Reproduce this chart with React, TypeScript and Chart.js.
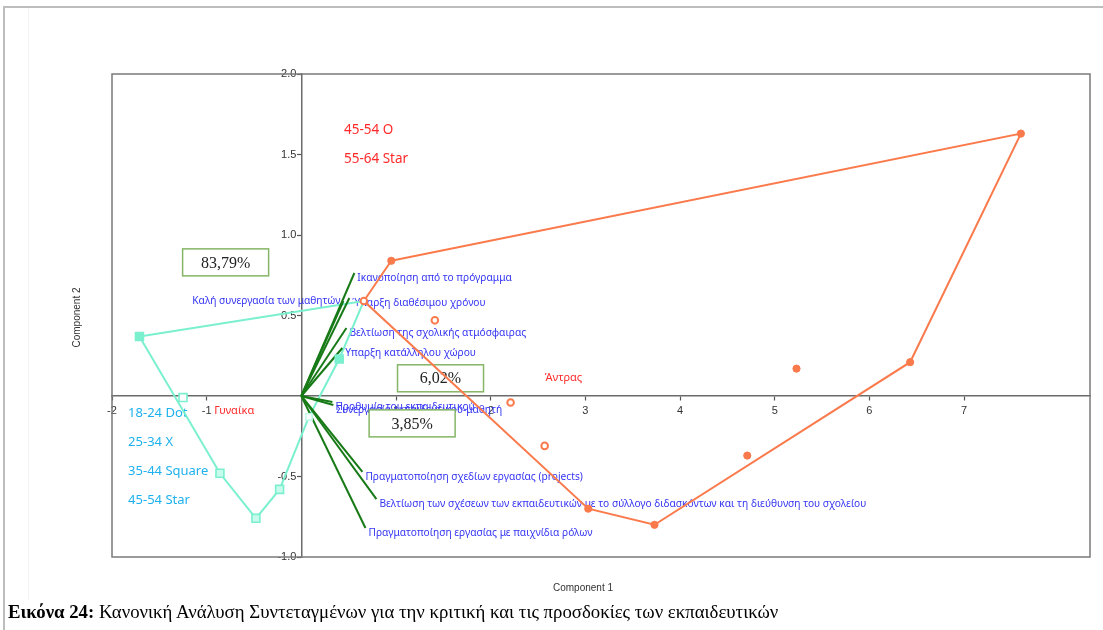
import React, { useEffect, useRef } from 'react';
import { Chart, registerables } from 'chart.js';

Chart.register(...registerables);

// ---------- data ----------
const variableNames = [
  'Ικανοποίηση από το πρόγραμμα',
  'Ύπαρξη διαθέσιμου χρόνου',
  'Καλή συνεργασία των μαθητών',
  'Βελτίωση της σχολικής ατμόσφαιρας',
  'Υπαρξη κατάλληλου χώρου',
  'Προθυμία του εκπαιδευτικού',
  'Συνεργασία εκπαιδευτικού-μαθητή',
  'Πραγματοποίηση σχεδίων εργασίας (projects)',
  'Βελτίωση των σχέσεων των εκπαιδευτικών με το σύλλογο διδασκόντων και τη διεύθυνση του σχολείου',
  'Πραγματοποίηση εργασίας με παιχνίδια ρόλων',
];
const loadingX = [0.56, 0.507, 0.444, 0.476, 0.433, 0.328, 0.338, 0.645, 0.793, 0.677];
const loadingY = [0.764, 0.609, 0.59, 0.422, 0.298, -0.037, -0.056, -0.472, -0.64, -0.82];
const labelSide = ['right', 'right', 'left', 'right', 'right', 'right', 'right', 'right', 'right', 'right'];

// Γυναίκα (women) scores
const womenX = [-1.71, -1.25, -0.86, -0.48, -0.23, 0.08, 0.4, 0.66];
const womenY = [0.37, -0.01, -0.48, -0.76, -0.58, -0.13, 0.23, 0.59];
const womenMarker = ['filled', 'hollow', 'light', 'light', 'light', 'faint', 'filled', 'none'];
const womenHull = [0, 2, 3, 4, 5, 6, 7, 0];

// Άντρας (men) scores
const menX = [0.95, 7.6, 6.43, 3.73, 3.03, 0.66, 1.41, 2.21, 2.57, 5.23, 4.71];
const menY = [0.84, 1.63, 0.21, -0.8, -0.7, 0.59, 0.47, -0.04, -0.31, 0.17, -0.37];
const menFilled = [true, true, true, true, true, false, false, false, false, true, true];
const menHull = [0, 1, 2, 3, 4, 5, 0];

const xTicks = [-2, -1, 1, 2, 3, 4, 5, 6, 7];
const yTicks = [-1.0, -0.5, 0.5, 1.0, 1.5, 2.0];

const percentLabels = ['83,79%', '6,02%', '3,85%'];
const percentAtX = [-0.8, 1.47, 1.17];
const percentAtY = [0.83, 0.11, -0.17];

const redNotes = ['45-54 O', '55-64 Star', 'Γυναίκα', 'Άντρας'];
const redNoteX = [0.45, 0.45, -0.92, 2.57];
const redNoteY = [1.65, 1.47, -0.093, 0.11];
const redNoteSize = [13.5, 13.5, 11, 11];

const cyanNotes = ['18-24 Dot', '25-34 X', '35-44 Square', '45-54 Star'];
const cyanNoteX = -1.83;
const cyanNoteY = [-0.11, -0.29, -0.47, -0.65];

// ---------- styles ----------
const CYAN = '#7af0cf';
const ORANGE = '#fa7a4c';
const GREEN = '#177a17';
const BLUE = '#3434f4';
const RED = '#ff2a2a';
const LEGEND_CYAN = '#1db2ee';

const annotationPlugin = {
  id: 'annotations',
  beforeDraw(chart: any) {
    const { ctx, width, height } = chart;
    ctx.save();
    ctx.fillStyle = '#ffffff';
    ctx.fillRect(0, 0, width, height);
    ctx.strokeStyle = '#f2f2f2';
    ctx.lineWidth = 1;
    ctx.beginPath();
    ctx.moveTo(28.5, 8);
    ctx.lineTo(28.5, 600);
    ctx.stroke();
    ctx.strokeStyle = '#bdbdbd';
    ctx.lineWidth = 2;
    ctx.beginPath();
    ctx.moveTo(4, height);
    ctx.lineTo(4, 7);
    ctx.lineTo(width, 7);
    ctx.stroke();
    ctx.restore();
  },
  beforeDatasetsDraw(chart: any) {
    const { ctx, chartArea, scales } = chart;
    const xs = scales.x;
    const ys = scales.y;
    ctx.save();
    // plot frame
    ctx.strokeStyle = '#7a7a7a';
    ctx.lineWidth = 1.5;
    ctx.strokeRect(chartArea.left, chartArea.top, chartArea.right - chartArea.left, chartArea.bottom - chartArea.top);

    // axis titles
    ctx.fillStyle = '#333';
    ctx.font = '10px "Liberation Sans", Arial, sans-serif';
    ctx.textAlign = 'center';
    ctx.textBaseline = 'middle';
    ctx.fillText('Component 1', (chartArea.left + chartArea.right) / 2 - 18, chartArea.bottom + 31);
    ctx.save();
    ctx.translate(77, (chartArea.top + chartArea.bottom) / 2 + 2);
    ctx.rotate(-Math.PI / 2);
    ctx.fillText('Component 2', 0, 0);
    ctx.restore();

    // variable labels at vector tips
    ctx.font = '10.2px "Noto Sans", sans-serif';
    ctx.fillStyle = BLUE;
    ctx.textBaseline = 'middle';
    variableNames.forEach((name, i) => {
      const px = xs.getPixelForValue(loadingX[i]);
      const py = ys.getPixelForValue(loadingY[i]);
      if (labelSide[i] === 'left') {
        ctx.textAlign = 'right';
        ctx.fillText(name, px - 3, py);
      } else {
        ctx.textAlign = 'left';
        ctx.fillText(name, px + 3, py + 5);
      }
    });

    // red notes
    ctx.textAlign = 'left';
    ctx.fillStyle = RED;
    redNotes.forEach((t, i) => {
      ctx.font = `${redNoteSize[i]}px "Noto Sans", sans-serif`;
      ctx.fillText(t, xs.getPixelForValue(redNoteX[i]), ys.getPixelForValue(redNoteY[i]));
    });

    // cyan notes
    ctx.fillStyle = LEGEND_CYAN;
    ctx.font = '13px "Noto Sans", sans-serif';
    cyanNotes.forEach((t, i) => {
      ctx.fillText(t, xs.getPixelForValue(cyanNoteX), ys.getPixelForValue(cyanNoteY[i]));
    });

    // percentage boxes
    percentLabels.forEach((t, i) => {
      const cx = xs.getPixelForValue(percentAtX[i]);
      const cy = ys.getPixelForValue(percentAtY[i]);
      const w = 86;
      const h = 27;
      ctx.fillStyle = '#ffffff';
      ctx.fillRect(cx - w / 2, cy - h / 2, w, h);
      ctx.strokeStyle = '#86b566';
      ctx.lineWidth = 1.5;
      ctx.strokeRect(cx - w / 2, cy - h / 2, w, h);
      ctx.fillStyle = '#222';
      ctx.font = '16px "Liberation Serif", "Times New Roman", serif';
      ctx.textAlign = 'center';
      ctx.textBaseline = 'middle';
      ctx.fillText(t, cx, cy + 1);
    });
    ctx.restore();
  },
};

function shiftYLabels(s: any) {
  if (s.__shifted || typeof s._computeLabelItems !== 'function') return;
  const orig = s._computeLabelItems;
  s._computeLabelItems = function (ca: any) {
    const items = orig.call(this, ca);
    items.forEach((it: any) => {
      const tr = it.options && it.options.translation;
      if (tr) it.options.translation = [tr[0] - 5, tr[1]];
    });
    return items;
  };
  s.__shifted = true;
}

export default function App() {
  const canvasRef = useRef<HTMLCanvasElement | null>(null);

  useEffect(() => {
    const canvas = canvasRef.current;
    if (!canvas) return;

    const datasets: any[] = [];

    // men markers (top)
    datasets.push({
      type: 'scatter',
      data: menX.map((x, i) => ({ x, y: menY[i] })),
      pointStyle: 'circle',
      pointRadius: menFilled.map((f) => (f ? 3.6 : 3.3)),
      pointBackgroundColor: menFilled.map((f) => (f ? ORANGE : '#ffffff')),
      pointBorderColor: ORANGE,
      pointBorderWidth: menFilled.map((f) => (f ? 1 : 2)),
      showLine: false,
    });
    // men hull
    datasets.push({
      type: 'scatter',
      data: menHull.map((k) => ({ x: menX[k], y: menY[k] })),
      showLine: true,
      borderColor: ORANGE,
      borderWidth: 2,
      pointRadius: 0,
      fill: false,
    });
    // women markers
    datasets.push({
      type: 'scatter',
      data: womenX.map((x, i) => ({ x, y: womenY[i] })),
      pointStyle: 'rect',
      pointRadius: womenMarker.map((m) => (m === 'none' ? 0 : m === 'faint' ? 4.5 : 5.6)),
      pointBackgroundColor: womenMarker.map((m) =>
        m === 'filled' ? CYAN : m === 'light' ? '#c9fbec' : '#ffffff'
      ),
      pointBorderColor: womenMarker.map((m) => (m === 'faint' ? '#c6f7e8' : CYAN)),
      pointBorderWidth: 1.6,
      showLine: false,
    });
    // loadings (biplot vectors)
    variableNames.forEach((name, i) => {
      datasets.push({
        type: 'scatter',
        label: name,
        data: [
          { x: 0, y: 0 },
          { x: loadingX[i], y: loadingY[i] },
        ],
        showLine: true,
        borderColor: GREEN,
        borderWidth: 2,
        pointRadius: 0,
      });
    });
    // women hull
    datasets.push({
      type: 'scatter',
      data: womenHull.map((k) => ({ x: womenX[k], y: womenY[k] })),
      showLine: true,
      borderColor: CYAN,
      borderWidth: 2,
      pointRadius: 0,
      fill: false,
    });

    const tickFont = { family: '"Liberation Sans", Arial, sans-serif', size: 11 };

    const chart = new Chart(canvas, {
      type: 'scatter',
      data: { datasets },
      options: {
        responsive: false,
        animation: false,
        events: [],
        layout: { padding: { left: 112, top: 74, right: 13, bottom: 73 } },
        plugins: {
          legend: { display: false },
          title: { display: false },
          tooltip: { enabled: false },
        },
        scales: {
          x: {
            type: 'linear',
            min: -2,
            max: 8.33,
            position: { y: 0 },
            afterBuildTicks: (s: any) => {
              s.ticks = xTicks.map((v) => ({ value: v }));
            },
            grid: { drawOnChartArea: false, drawTicks: true, tickLength: 4, tickColor: '#555', tickWidth: 1.2 },
            border: { color: '#6a6a6a', width: 1.5 },
            ticks: {
              color: '#333',
              font: tickFont,
              padding: 4,
              maxRotation: 0,
              autoSkip: false,
              callback: (v: any) => String(v),
            },
          },
          y: {
            type: 'linear',
            min: -1,
            max: 2,
            position: { x: 0 },
            afterBuildTicks: (s: any) => {
              s.ticks = yTicks.map((v) => ({ value: v }));
            },
            afterUpdate: shiftYLabels,
            grid: { drawOnChartArea: false, drawTicks: true, tickLength: 4, tickColor: '#555', tickWidth: 1.2 },
            border: { color: '#6a6a6a', width: 1.5 },
            ticks: {
              color: '#333',
              font: tickFont,
              padding: 1,
              autoSkip: false,
              callback: (v: any) => Number(v).toFixed(1),
            },
          },
        },
      },
      plugins: [annotationPlugin],
    } as any);

    return () => chart.destroy();
  }, []);

  return (
    <div
      style={{
        position: 'fixed',
        left: 0,
        top: 0,
        width: 1103,
        height: 630,
        background: '#ffffff',
        overflow: 'hidden',
      }}
    >
      <canvas ref={canvasRef} width={1103} height={630} style={{ position: 'absolute', left: 0, top: 0 }} />
      <div
        style={{
          position: 'absolute',
          left: 8,
          top: 600,
          fontFamily: '"Liberation Serif", "Times New Roman", serif',
          fontSize: 18.8,
          lineHeight: '24px',
          color: '#000',
          whiteSpace: 'nowrap',
        }}
      >
        <b>Εικόνα 24:</b> Κανονική Ανάλυση Συντεταγμένων για την κριτική και τις προσδοκίες των εκπαιδευτικών
      </div>
    </div>
  );
}
